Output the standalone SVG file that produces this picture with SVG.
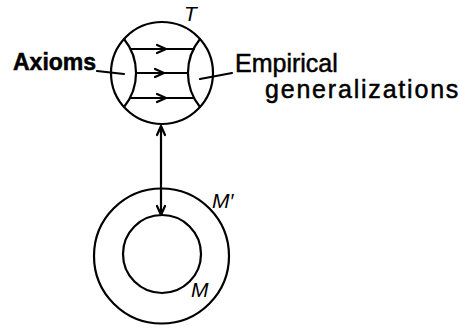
<svg xmlns="http://www.w3.org/2000/svg" width="460" height="329" viewBox="0 0 460 329">
<style>
.s{fill:none;stroke:#000;stroke-width:2.2;stroke-linecap:round;stroke-linejoin:round}
.t{font-family:"Liberation Sans",Arial,sans-serif;fill:#000;stroke:#000;stroke-width:0.5}
.i{font-family:"Liberation Sans",Arial,sans-serif;font-style:italic;fill:#000;font-size:21px}
</style>
<rect width="460" height="329" fill="#fff"/>
<g id="T">
<circle class="s" cx="162" cy="73" r="51"/>
<path class="s" d="M124,39 A54,54 0 0 1 124,107"/>
<path class="s" d="M200,39 A54,54 0 0 0 200,107"/>
<path class="s" d="M131,49 H194 M157,45 L166,49 L157,53"/>
<path class="s" d="M136,73 H188 M155,69 L164,73 L155,77"/>
<path class="s" d="M131,98 H194 M157,94 L166,98 L157,102"/>
<text class="i" x="184" y="21">T</text>
</g>
<g id="axioms">
<text class="t" x="13" y="70" font-size="23" font-weight="bold" stroke-width="0">Axioms</text>
<path class="s" d="M97,71 L124,74"/>
</g>
<g id="empirical">
<text class="t" x="235" y="72" font-size="25">Empirical</text>
<text class="t" x="265" y="98" font-size="25" letter-spacing="1.8">generalizations</text>
<path class="s" d="M200,79 L232,73"/>
</g>
<g id="Mprime">
<circle class="s" cx="161.5" cy="256" r="67.5"/>
<text class="i" x="212" y="208">M′</text>
</g>
<g id="M">
<circle class="s" cx="162" cy="254" r="39"/>
<text class="i" x="191" y="297">M</text>
</g>
<g id="connectors">
<path class="s" d="M161,126 V215 M157,135 L161,126 L165,135 M157,206 L161,215 L165,206"/>
</g>
</svg>
